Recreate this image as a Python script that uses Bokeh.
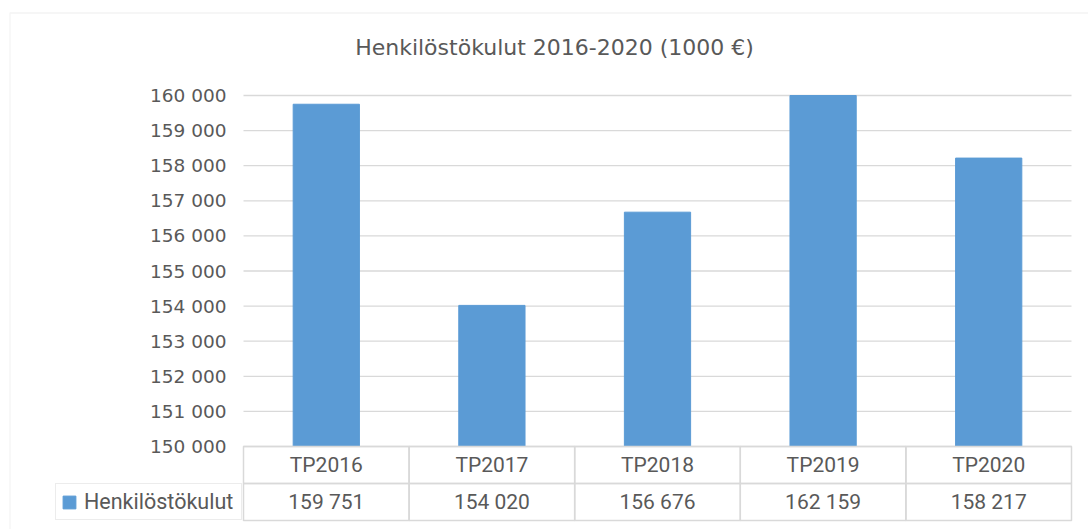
from bokeh.plotting import figure
from bokeh.models import (Range1d, FixedTicker, Legend, LegendItem,
                          Label, BoxAnnotation, ColumnDataSource)
from bokeh.core.properties import value
from bokeh.embed import file_html
from bokeh.resources import INLINE

# ---------------- data ----------------
title_text = "Henkilöstökulut 2016-2020 (1000 €)"
series_name = "Henkilöstökulut"
categories = ["TP2016", "TP2017", "TP2018", "TP2019", "TP2020"]
values = [159751, 154020, 156676, 162159, 158217]
y_ticks = [150000, 151000, 152000, 153000, 154000, 155000,
           156000, 157000, 158000, 159000, 160000]
y_tick_labels = ["150 000", "151 000", "152 000", "153 000", "154 000", "155 000",
                 "156 000", "157 000", "158 000", "159 000", "160 000"]

# ---------------- layout ----------------
W, H = 1088, 529
PLOT_X0, PLOT_X1 = 243, 1071         # pixel span of the category area
PLOT_Y_TOP, PLOT_Y_BASE = 95, 446    # pixel rows of axis max / axis min
ROW_PX = 37
n = len(categories)
px_per_cat = (PLOT_X1 - PLOT_X0) / n
y_min, y_max = y_ticks[0], y_ticks[-1]
px_per_unit = (PLOT_Y_BASE - PLOT_Y_TOP) / (y_max - y_min)

x_start = -PLOT_X0 / px_per_cat
x_end = (W - PLOT_X0) / px_per_cat
y_end = y_max + PLOT_Y_TOP / px_per_unit
y_start = y_min - (H - PLOT_Y_BASE) / px_per_unit
rh = ROW_PX / px_per_unit

GRAY = "#d9d9d9"
TXT = "#595959"
BAR = "#5B9BD5"
TABLE_FONT = "Roboto"

p = figure(width=W, height=H, output_backend="svg", toolbar_location=None, tools="",
           x_range=Range1d(x_start, x_end), y_range=Range1d(y_start, y_end),
           x_axis_location=None,
           min_border_left=0, min_border_right=0, min_border_top=0, min_border_bottom=0)
p.outline_line_color = None
p.background_fill_color = "white"
p.border_fill_color = "white"
p.xgrid.visible = False
p.ygrid.visible = False

# y axis, drawn at the left edge of the category area
ax = p.yaxis[0]
ax.fixed_location = 0
ax.ticker = FixedTicker(ticks=y_ticks)
ax.major_label_overrides = dict(zip(y_ticks, y_tick_labels))
ax.axis_line_color = None
ax.major_tick_line_color = None
ax.minor_tick_line_color = None
ax.major_tick_out = 0
ax.major_tick_in = 0
ax.major_label_standoff = 17
ax.major_label_text_font = "DejaVu Sans"
ax.major_label_text_font_size = "18.5px"
ax.major_label_text_color = TXT

# gridlines across the category area
p.segment(x0=0, x1=n, y0=y_ticks, y1=y_ticks, line_color=GRAY, line_width=1.3)

# bars (axis max fixed at 160 000, so taller bars are cut there)
xs = [i + 0.5 for i in range(n)]
tops = [min(v, y_max) for v in values]
value_labels = [f"{v:,}".replace(",", " ") for v in values]
src = ColumnDataSource(dict(x=xs, cat=categories, val=values, top=tops, lab=value_labels))
bars = p.vbar(x="x", top="top", bottom=y_min, width=0.4, source=src,
              fill_color=BAR, line_color=BAR)

# data table below the plot area
row1_y = y_min - rh / 2
row2_y = y_min - 1.5 * rh
p.rect(x="x", y=row1_y, width=1, height=rh, source=src,
       fill_color=None, line_color=GRAY, line_width=1.5)
p.rect(x="x", y=row2_y, width=1, height=rh, source=src,
       fill_color=None, line_color=GRAY, line_width=1.5)
p.text(x="x", y=row1_y, text="cat", source=src, text_align="center",
       text_baseline="middle", text_font=value(TABLE_FONT),
       text_font_size="21px", text_color=TXT)
p.text(x="x", y=row2_y, text="lab", source=src, text_align="center",
       text_baseline="middle", text_font=value(TABLE_FONT),
       text_font_size="21px", text_color=TXT)

# legend cell (legend key of the table)
legend = Legend(items=[LegendItem(label=series_name, renderers=[bars])],
                location=(55, H - 520), margin=0, padding=5,
                glyph_width=16, glyph_height=16, label_standoff=7,
                label_width=152, label_height=10,
                border_line_color=GRAY, border_line_width=1.5,
                background_fill_color="white", background_fill_alpha=1,
                label_text_font=TABLE_FONT, label_text_font_size="21.5px",
                label_text_color=TXT, label_text_baseline="middle")
p.add_layout(legend, "center")

# title
p.add_layout(Label(x=554, y=H - 47, x_units="screen", y_units="screen",
                   text=title_text, text_align="center", text_baseline="middle",
                   text_font="DejaVu Sans", text_font_size="22px",
                   text_color=TXT))

# outer chart border
p.add_layout(BoxAnnotation(left=9.5, right=W + 50, top=H - 12.5, bottom=-50,
                           left_units="screen", right_units="screen",
                           top_units="screen", bottom_units="screen",
                           fill_alpha=0, line_color=GRAY, line_width=1.3))

open("out.html", "w").write(file_html(p, INLINE))
